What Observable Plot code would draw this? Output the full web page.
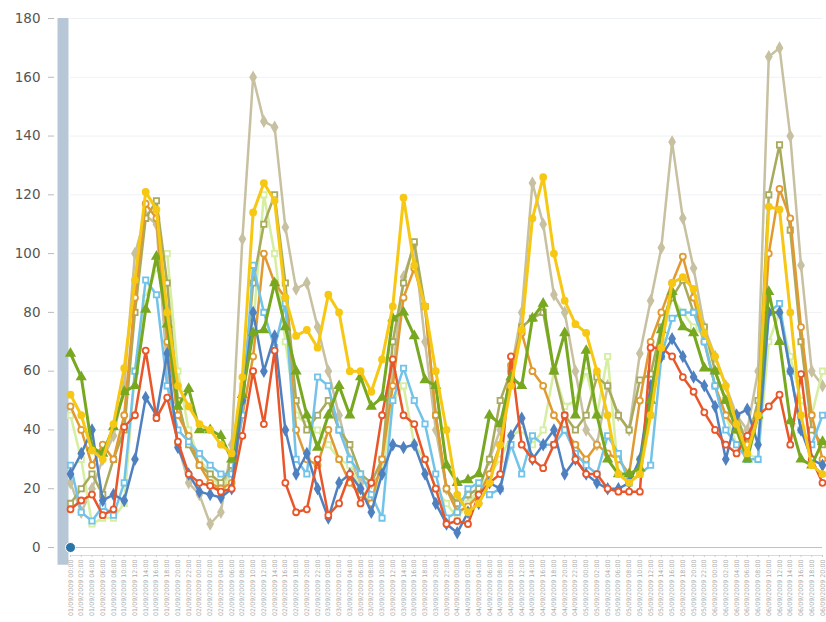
<!DOCTYPE html>
<html>
<head>
<meta charset="utf-8">
<script src="https://cdn.jsdelivr.net/npm/d3@7"></script>
<script src="https://cdn.jsdelivr.net/npm/@observablehq/plot@0.6"></script>
<style>
  html, body { margin: 0; padding: 0; background: #fff; overflow: hidden; }
  #chart svg { display: block; }
</style>
</head>
<body>
<div id="chart"></div>
<script>
// ---- tick labels (2-hour steps) ----
const labels = [
  "01/09/2009 00:00","01/09/2009 02:00","01/09/2009 04:00","01/09/2009 06:00","01/09/2009 08:00","01/09/2009 10:00",
  "01/09/2009 12:00","01/09/2009 14:00","01/09/2009 16:00","01/09/2009 18:00","01/09/2009 20:00","01/09/2009 22:00",
  "02/09/2009 00:00","02/09/2009 02:00","02/09/2009 04:00","02/09/2009 06:00","02/09/2009 08:00","02/09/2009 10:00",
  "02/09/2009 12:00","02/09/2009 14:00","02/09/2009 16:00","02/09/2009 18:00","02/09/2009 20:00","02/09/2009 22:00",
  "03/09/2009 00:00","03/09/2009 02:00","03/09/2009 04:00","03/09/2009 06:00","03/09/2009 08:00","03/09/2009 10:00",
  "03/09/2009 12:00","03/09/2009 14:00","03/09/2009 16:00","03/09/2009 18:00","03/09/2009 20:00","03/09/2009 22:00",
  "04/09/2009 00:00","04/09/2009 02:00","04/09/2009 04:00","04/09/2009 06:00","04/09/2009 08:00","04/09/2009 10:00",
  "04/09/2009 12:00","04/09/2009 14:00","04/09/2009 16:00","04/09/2009 18:00","04/09/2009 20:00","04/09/2009 22:00",
  "05/09/2009 00:00","05/09/2009 02:00","05/09/2009 04:00","05/09/2009 06:00","05/09/2009 08:00","05/09/2009 10:00",
  "05/09/2009 12:00","05/09/2009 14:00","05/09/2009 16:00","05/09/2009 18:00","05/09/2009 20:00","05/09/2009 22:00",
  "06/09/2009 00:00","06/09/2009 02:00","06/09/2009 04:00","06/09/2009 06:00","06/09/2009 08:00","06/09/2009 10:00",
  "06/09/2009 12:00","06/09/2009 14:00","06/09/2009 16:00","06/09/2009 18:00","06/09/2009 20:00"
];
const yTicks = [0, 20, 40, 60, 80, 100, 120, 140, 160, 180];

// ---- series values ----
const khaki = [22,12,20,30,38,55,100,113,110,60,35, 22,18,8,12,35,105,160,145,143,109, 88,90,75,60,45,30,22,22,25,60, 92,103,70,40,20,15,18,20,30,40, 60,80,124,110,86,80,60,40,35,55, 45,40,66,84,102,138,112,95,75,65, 55,45,40,60,167,170,140,96,60,55];
const lime = [45,30,8,10,10,15,60,85,95,100,60, 40,30,25,20,25,55,75,120,100,70, 45,42,40,35,30,28,20,15,25,50, 55,35,30,20,15,10,15,20,25,30, 38,40,35,40,60,48,50,60,45,65, 25,22,30,45,70,85,80,75,72,55, 45,35,32,30,70,80,65,50,45,60];
const olive = [15,20,25,18,30,40,80,112,118,90,50, 35,28,25,22,28,50,90,110,120,90, 50,40,45,50,40,35,25,22,30,70, 90,104,82,45,20,15,18,20,30,50, 60,75,78,80,60,45,40,45,58,55, 45,40,57,59,75,85,91,80,75,60, 50,45,35,50,120,137,108,70,40,35];
const amber = [48,40,28,35,30,45,85,117,112,70,45, 38,28,22,20,22,45,65,100,90,85, 40,30,28,40,30,22,18,15,30,55, 85,95,82,45,20,12,14,18,25,35, 62,73,60,55,45,40,35,30,35,32, 30,25,50,70,80,90,99,85,70,55, 45,40,35,45,100,122,112,75,45,30];
const lightblue = [28,12,9,14,11,22,60,91,86,55,40, 36,32,28,25,25,45,96,80,68,83, 30,25,58,55,40,30,25,18,10,50, 61,50,42,25,10,12,20,22,18,20, 35,25,38,35,35,40,32,28,25,38, 32,22,25,28,65,78,80,80,70,55, 40,35,30,30,80,83,60,40,35,45];
const blue = [25,32,40,16,18,16,30,51,45,66,34, 25,19,18,17,20,50,80,60,72,40, 25,32,20,10,22,25,20,12,25,35, 34,35,25,15,8,5,12,15,22,20, 38,44,30,35,40,25,30,25,22,20, 20,22,30,55,65,71,65,58,55,48, 30,45,47,35,80,80,60,40,30,28];
const red = [13,16,18,11,13,41,45,67,44,51,36, 25,22,21,19,20,38,60,42,67,22, 12,13,30,11,15,25,15,22,45,64, 45,42,30,20,8,9,8,18,22,25, 65,35,30,27,35,45,30,25,25,20, 19,19,19,68,68,65,58,53,46,40, 35,32,38,45,48,52,35,59,30,22];
const green = [66,58,34,32,41,53,55,81,99,76,48, 54,40,40,38,30,52,73,74,90,75, 60,45,34,45,55,45,58,48,51,78, 80,72,57,55,28,22,23,25,45,42, 58,55,78,83,60,73,45,67,45,30, 25,25,27,50,74,87,75,73,61,60, 50,40,30,45,87,70,43,30,28,36];
const yellow = [52,45,33,30,42,61,91,121,115,80,55, 48,42,40,35,32,58,114,124,118,85, 72,74,68,86,80,60,60,53,64,82, 119,96,82,60,40,18,12,15,22,35, 55,74,112,126,100,84,76,73,60,45, 25,22,25,45,68,90,92,88,73,65, 55,42,32,45,116,115,80,45,28,25];

// ---- styles (back to front) ----
const styles = [
  {values: khaki,     color: "#c7c1a1", symbol: "diamond",  fill: "#c7c1a1", width: 2.5},
  {values: lime,      color: "#d6eea0", symbol: "square",   fill: "#ffffff", width: 2.5},
  {values: olive,     color: "#a8aa5c", symbol: "square",   fill: "#ffffff", width: 2.5},
  {values: amber,     color: "#e09a31", symbol: "circle",   fill: "#ffffff", width: 2.5},
  {values: lightblue, color: "#72c3ea", symbol: "square",   fill: "#ffffff", width: 2.5},
  {values: blue,      color: "#4f80c0", symbol: "diamond",  fill: "#4f80c0", width: 2.5},
  {values: red,       color: "#e8562a", symbol: "circle",   fill: "#ffffff", width: 2.5},
  {values: green,     color: "#77a820", symbol: "triangle", fill: "#77a820", width: 3},
  {values: yellow,    color: "#f6c813", symbol: "circle",   fill: "#f6c813", width: 3}
];

const seriesMarks = styles.flatMap(s => {
  const rows = s.values.map((v, i) => ({label: labels[i], value: v}));
  return [
    Plot.line(rows, {x: "label", y: "value", stroke: s.color, strokeWidth: s.width, strokeLinejoin: "round"}),
    Plot.dot(rows, {x: "label", y: "value", symbol: s.symbol, r: 3, fill: s.fill, stroke: s.color, strokeWidth: 1.8})
  ];
});

const handle = [{label: labels[0], value: 0}];

const chart = Plot.plot({
  width: 826,
  height: 622,
  marginLeft: 70,
  marginRight: 4,
  marginTop: 18,
  marginBottom: 75,
  style: {fontFamily: "DejaVu Sans, Verdana, sans-serif", background: "#fff"},
  x: {type: "point", domain: labels, padding: 0, label: null},
  y: {domain: [0, 180], ticks: yTicks, label: null},
  marks: [
    Plot.gridY(yTicks, {stroke: "#eef1f5", strokeOpacity: 1}),
    Plot.ruleX([labels[0]], {y1: -6, y2: 180, dx: -7.5, stroke: "#b8c7d7", strokeWidth: 11}),
    Plot.ruleY([0], {stroke: "#b5c3d2", strokeWidth: 1}),
    Plot.ruleY([0], {stroke: "#d3dbe4", strokeWidth: 1, dy: 8}),
    Plot.axisY(yTicks, {tickSize: 6, tickPadding: 8, dx: -16, fontSize: 13.5, color: "#555", stroke: "#bbb", label: null}),
    Plot.axisX({tickRotate: -90, tickSize: 2, tickPadding: 2, dy: 8, fontSize: 6.3, color: "#aaa", stroke: "#ccc", label: null}),
    ...seriesMarks,
    Plot.dot(handle, {x: "label", y: "value", r: 5, fill: "#2a74a8", stroke: "#fff", strokeWidth: 1})
  ]
});
document.getElementById("chart").appendChild(chart);
</script>
</body>
</html>
